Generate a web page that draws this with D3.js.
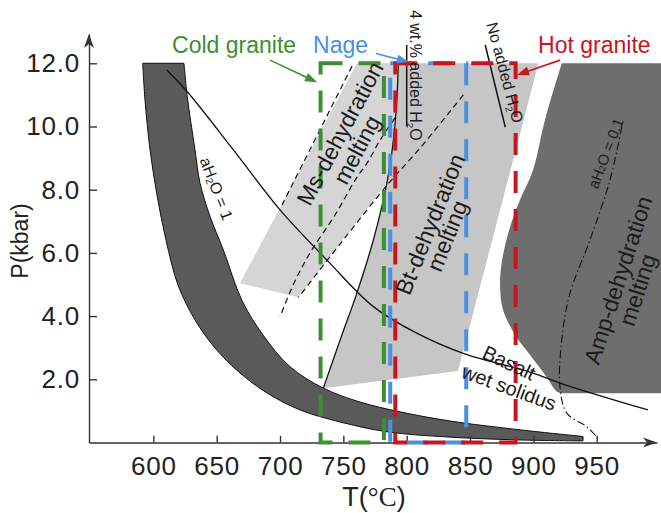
<!DOCTYPE html>
<html>
<head>
<meta charset="utf-8">
<script src="https://cdn.jsdelivr.net/npm/d3@7"></script>
<style>
  html, body { margin: 0; padding: 0; background: #fff; }
  svg { display: block; font-family: "Liberation Sans", Arial, Helvetica, sans-serif; }
</style>
</head>
<body>
<svg id="chart" width="661" height="513"></svg>
<script>
// ---- Axis ticks: temperature (°C) and pressure (kbar) ----
const tempTicks = [600, 650, 700, 750, 800, 850, 900, 950];
const presTicks = [2, 4, 6, 8, 10, 12];

// ---- Wet solidus band (aH2O = 1): lower/left edge and upper/right edge, [T, P] ----
const bandLower = [[591.6,12],[593.4,10.84],[597.4,9.26],[602.9,7.83],[610.0,6.40],[619.5,4.98],
  [632.9,3.88],[648.7,2.99],[668.4,2.20],[689.7,1.57],[715.8,1.03],[747.4,0.65],[784.3,0.34],
  [834.2,0.17],[889.6,0.08],[939.2,0.05]];
const bandUpper = [[624.2,12],[626.8,10.94],[632.9,9.26],[636.9,8.20],[644.8,7.15],[655.3,6.09],
  [669.8,4.51],[686.6,3.40],[707.9,2.40],[734.2,1.72],[763.2,1.28],[794.8,0.97],[834.2,0.68],[889.6,0.40],[939.2,0.19]];

// ---- aH2O = 1 curve continuing into the basalt wet solidus ----
const solidusLine = [[610.6,11.79],[626.8,11.10],[663.2,9.26],[700.0,7.36],[736.9,5.78],[773.7,4.30],
  [807.9,3.46],[844.7,2.82],[897.4,2.23],[923.3,1.85],[990.5,1.03]];

// ---- Solidus with 4 wt.% added H2O (also left edge of the Bt field) ----
const wt4Line = [[734.2,1.72],[747.4,3.24],[760.6,4.72],[773.7,6.41],[784.3,8.20],[789.5,9.57],[792.2,10.84],[793.4,12]];

// ---- Bt-dehydration melting field: right-hand corners ----
const btCorners = [[904.0,12],[840.5,2.26]];

// ---- Ms-dehydration melting field ----
const msTop = [[760.6,12],[793.4,12]];
const msRightEdge = [[793.4,12],[792.2,10.84],[789.5,9.57],[784.3,8.20]];
const msLowerCorners = [[714.5,4.60],[668.4,5.04]];

// ---- Dashed reaction curves ----
const dashA = [[756.9,11.91],[701.6,7.52]];
const dashB = [[790.8,10.27],[779.0,9.57],[768.7,8.84],[760.8,8.40],[743.4,7.20],[723.7,6.00],[710.3,4.98],[700.0,3.97]];
const dashC = [[844.7,11.0],[810.6,9.32],[785.3,8.18],[747.4,6.28],[714.5,4.59]];

// ---- Amp-dehydration melting field: left boundary and right side ----
const ampEdge = [[922.4,12],[909.2,10.21],[899.8,8.63],[889.5,7.68],[881.6,6.82],[875.3,5.77],[873.7,4.98],
  [876.1,4.19],[885.6,3.40],[897.4,2.77],[909.2,2.14],[917.9,1.63],[921.0,1.56]];
const ampRight = [[1010,1.56],[1010,12]];

// ---- aH2O = 0.1 curve (dash-dot) ----
const aH2O01 = [[969.8,9.99],[960.5,8.31],[944.7,6.41],[928.9,4.72],[922.4,3.24],[921.0,1.77],[926.4,0.93],[942.1,0.50],[950.0,0.18]];

// ---- Short reference strokes beside the H2O labels ----
const wt4Marker = [[800,12.58],[800,10.0]];
const noH2OMarker = [[862.0,12.58],[877.8,9.98]];

// ---- Granite temperature windows [Tmin, Tmax, Pmin, Pmax] ----
const coldGranite = [732, 782, 0, 12];
const nageGranite = [787, 847, 0, 12];
const hotGranite  = [791, 886, 0, 12];

// ---- Pointer arrows from the window titles ----
const coldArrow = [[692.1,12.10],[729.2,11.40]];
const nageArrow = [[775.7,12.31],[801.7,12.04]];
const hotArrow  = [[921.1,12.10],[887.1,11.63]];

const svg = d3.select("#chart");
const x = d3.scaleLinear().domain([549.2, 997.6]).range([89, 657]);
const y = d3.scaleLinear().domain([0, 12.93]).range([442.5, 33.9]);

const lineC = d3.line().x(d => x(d[0])).y(d => y(d[1])).curve(d3.curveCatmullRom.alpha(0.5));
const lineL = d3.line().x(d => x(d[0])).y(d => y(d[1]));
const joinPaths = parts => parts.map((p, i) => i === 0 ? p : p.replace(/^M/, "L")).join("") + "Z";

const COLORS = {
  bt: "#c6c6c6", ms: "#d5d5d5", amp: "#6e6e6e", band: "#5a5a5a",
  green: "#3d8f31", blue: "#4a90e2", red: "#c8161e", ink: "#1c1c1c"
};

// Fields
svg.append("path").attr("d", joinPaths([lineC(wt4Line), lineL(btCorners)])).attr("fill", COLORS.bt);
svg.append("path").attr("d", joinPaths([lineL(msTop), lineC(msRightEdge), lineL([msRightEdge[msRightEdge.length-1], ...msLowerCorners])]))
  .attr("fill", COLORS.ms);
svg.append("path").attr("d", joinPaths([lineC(ampEdge), lineL([ampEdge[ampEdge.length-1], ...ampRight])])).attr("fill", COLORS.amp);
svg.append("path")
  .attr("d", joinPaths([lineC(bandLower), lineL([bandLower[bandLower.length-1], bandUpper[bandUpper.length-1]]), lineC(bandUpper.slice().reverse())]))
  .attr("fill", COLORS.band).attr("stroke", "#111").attr("stroke-width", 1);

// Curves
const curves = svg.append("g").attr("fill", "none").attr("stroke", "#111");
curves.append("path").attr("d", lineC(solidusLine)).attr("stroke-width", 1.3);
curves.append("path").attr("d", lineC(wt4Line)).attr("stroke-width", 1.3);
[dashA, dashB, dashC].forEach(d => curves.append("path").attr("d", lineC(d)).attr("stroke-width", 1.2).attr("stroke-dasharray", "6,4"));
curves.append("path").attr("d", lineC(aH2O01)).attr("stroke-width", 1.1).attr("stroke-dasharray", "8,3,1.5,3");
curves.append("path").attr("d", lineL(wt4Marker)).attr("stroke-width", 1.5);
curves.append("path").attr("d", lineL(noH2OMarker)).attr("stroke-width", 1.5);

// Axes
const axisColor = "#333";
const gx = svg.append("g").attr("transform", `translate(0,${y(0)})`)
  .call(d3.axisBottom(x).tickValues(tempTicks).tickSize(-6.7).tickSizeOuter(0).tickPadding(14).tickFormat(d3.format("d")));
const gy = svg.append("g").attr("transform", `translate(${x.range()[0]},0)`)
  .call(d3.axisLeft(y).tickValues(presTicks).tickSize(-8).tickSizeOuter(0).tickPadding(9).tickFormat(d3.format(".1f")));
[gx, gy].forEach(g => {
  g.attr("font-size", null).attr("font-family", null).attr("color", axisColor);
  g.selectAll("path, line").attr("stroke-width", 1.4);
  g.selectAll("text").attr("font-size", 26).attr("fill", "#222").attr("letter-spacing", "0.8px");
});
const x1 = x.range()[1], y0 = y(0), xa = x.range()[0], y1 = y.range()[1];
svg.append("path").attr("fill", axisColor)
  .attr("d", `M${x1},${y0} L${x1-14},${y0-5} L${x1-10},${y0} L${x1-14},${y0+5} Z`);
svg.append("path").attr("fill", axisColor)
  .attr("d", `M${xa},${y1} L${xa-5},${y1+14} L${xa},${y1+10} L${xa+5},${y1+14} Z`);

// Axis titles
const tTitle = svg.append("text").attr("x", 374).attr("y", 506).attr("text-anchor", "middle")
  .attr("font-size", 27).attr("fill", "#222");
tTitle.append("tspan").text("T(");
tTitle.append("tspan").attr("font-family", "'Liberation Serif', 'DejaVu Serif', serif").text("°C");
tTitle.append("tspan").text(")");
svg.append("text").attr("transform", "translate(28,241) rotate(-90)").attr("text-anchor", "middle")
  .attr("font-size", 23).attr("fill", "#222").text("P(kbar)");

// Granite windows
function windowRect(w, color) {
  svg.append("rect")
    .attr("x", x(w[0])).attr("y", y(w[3]))
    .attr("width", x(w[1]) - x(w[0])).attr("height", y(w[2]) - y(w[3]))
    .attr("fill", "none").attr("stroke", color).attr("stroke-width", 4)
    .attr("stroke-dasharray", "22,16");
}
windowRect(coldGranite, COLORS.green);
windowRect(nageGranite, COLORS.blue);
windowRect(hotGranite, COLORS.red);

// Arrows
function arrow(a, color) {
  const [sx, sy] = [x(a[0][0]), y(a[0][1])], [ex, ey] = [x(a[1][0]), y(a[1][1])];
  const ang = Math.atan2(ey - sy, ex - sx), L = 12, W = 4.5;
  const bx = ex - L * Math.cos(ang), by = ey - L * Math.sin(ang);
  svg.append("line").attr("x1", sx).attr("y1", sy).attr("x2", bx + 2 * Math.cos(ang)).attr("y2", by + 2 * Math.sin(ang))
    .attr("stroke", color).attr("stroke-width", 1.6);
  svg.append("path").attr("fill", color)
    .attr("d", `M${ex},${ey} L${bx - W*Math.sin(ang)},${by + W*Math.cos(ang)} L${bx + W*Math.sin(ang)},${by - W*Math.cos(ang)} Z`);
}
arrow(coldArrow, COLORS.green);
arrow(nageArrow, COLORS.blue);
arrow(hotArrow, COLORS.red);

// Labels (parts: [text, isSubscript])
function label(o) {
  const t = svg.append("text")
    .attr("transform", `translate(${x(o.T)},${y(o.P)}) rotate(${o.angle || 0})`)
    .attr("font-size", o.size)
    .attr("fill", o.color || COLORS.ink)
    .attr("text-anchor", o.anchor || "middle")
    .attr("dominant-baseline", o.base || "central");
  let shifted = false;
  const shift = o.size * 0.22;
  o.parts.forEach(([s, sub]) => {
    const ts = t.append("tspan").text(s);
    if (sub) { ts.attr("font-size", o.size * 0.62).attr("dy", shift); shifted = true; }
    else if (shifted) { ts.attr("dy", -shift); shifted = false; }
  });
}
label({T: 614.8, P: 12.33, size: 23, anchor: "start", base: "auto", color: COLORS.green, parts: [["Cold granite", 0]]});
label({T: 726.1, P: 12.33, size: 23, anchor: "start", base: "auto", color: COLORS.blue, parts: [["Nage", 0]]});
label({T: 903.7, P: 12.33, size: 23, anchor: "start", base: "auto", color: COLORS.red, parts: [["Hot granite", 0]]});
label({T: 803.0, P: 13.69, size: 16, angle: 90, anchor: "start", base: "auto", parts: [["4 wt.% added H", 0], ["2", 1], ["O", 0]]});
label({T: 862.8, P: 13.24, size: 16, angle: 75, anchor: "start", base: "auto", parts: [["No added H", 0], ["2", 1], ["O", 0]]});
label({T: 747.4, P: 9.78, size: 23, angle: -62, parts: [["Ms-dehydration", 0]]});
label({T: 760.6, P: 9.26, size: 23, angle: -62, parts: [["melting", 0]]});
label({T: 818.4, P: 6.91, size: 23, angle: -68, parts: [["Bt-dehydration", 0]]});
label({T: 831.9, P: 6.54, size: 23, angle: -68, parts: [["melting", 0]]});
label({T: 966.9, P: 5.14, size: 23, angle: -72, parts: [["Amp-dehydration", 0]]});
label({T: 982.3, P: 4.83, size: 23, angle: -72, parts: [["melting", 0]]});
label({T: 956.6, P: 9.16, size: 15, angle: -69, parts: [["aH", 0], ["2", 1], ["O = 0.1", 0]]});
label({T: 650.1, P: 8.04, size: 16, angle: 69, parts: [["aH", 0], ["2", 1], ["O = 1", 0]]});
label({T: 880.8, P: 2.52, size: 20, angle: 25, parts: [["Basalt", 0]]});
label({T: 880.8, P: 1.74, size: 20, angle: 20, parts: [["wet solidus", 0]]});
</script>
</body>
</html>
